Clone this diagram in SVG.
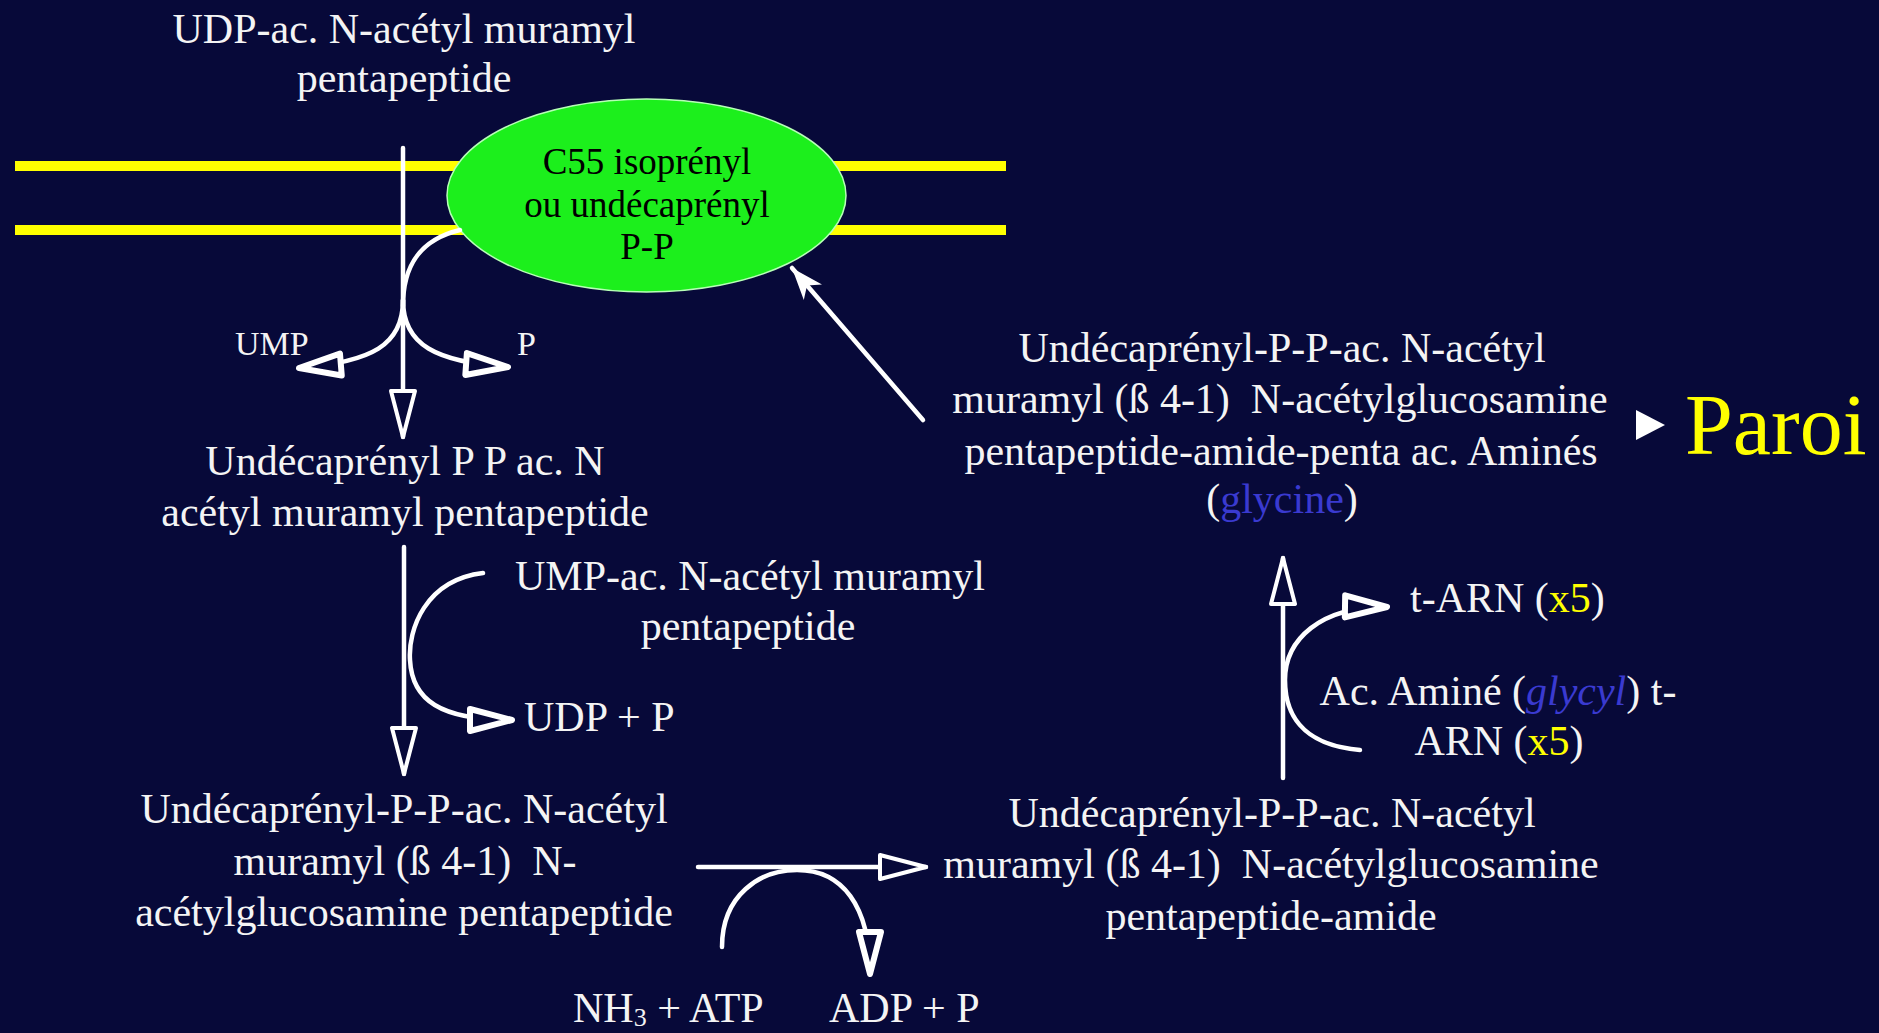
<svg xmlns="http://www.w3.org/2000/svg" width="1879" height="1033" viewBox="0 0 1879 1033">
<style>
.t{font-family:"Liberation Serif","Times New Roman",serif;font-size:42px;fill:#f4f4f4;text-anchor:middle;white-space:pre}
.s{text-anchor:start}
.e{font-family:"Liberation Serif","Times New Roman",serif;font-size:37px;fill:#000;text-anchor:middle}
.y{fill:#ffff00}
.b{fill:#3a3ad0}
.ln{fill:none;stroke:#fff;stroke-width:4.5;stroke-linecap:round}
.mem{stroke:#ffff00;stroke-width:10}
</style>
<defs>
<marker id="hollow" markerUnits="userSpaceOnUse" markerWidth="56" markerHeight="32" viewBox="-4 -16 56 32" refX="46" refY="0" orient="auto">
<path d="M0,-12 L46,0 L0,12 Z" fill="#070939" stroke="#fff" stroke-width="4" stroke-linejoin="round"/>
</marker>
<marker id="small" markerUnits="userSpaceOnUse" markerWidth="52" markerHeight="32" viewBox="-4 -16 52 32" refX="42" refY="0" orient="auto">
<path d="M0,-11 L42,0 L0,11 Z" fill="#070939" stroke="#fff" stroke-width="6" stroke-linejoin="round"/>
</marker>
<marker id="solid" markerUnits="userSpaceOnUse" markerWidth="40" markerHeight="32" viewBox="-4 -16 40 32" refX="32" refY="0" orient="auto">
<path d="M0,-12 L32,0 L0,12 L9,0 Z" fill="#fff"/>
</marker>
</defs>
<rect width="1879" height="1033" fill="#070939"/>

<g id="membrane">
<line class="mem" x1="15" y1="166" x2="1006" y2="166"/>
<line class="mem" x1="15" y1="230" x2="1006" y2="230"/>
</g>

<g id="node-carrier">
<ellipse cx="646.5" cy="195.5" rx="199.5" ry="96.5" fill="#1cef1c" stroke="#b8ffb8" stroke-width="1.5"/>
<text class="e" x="647" y="174">C55 isoprényl</text>
<text class="e" x="647" y="217">ou undécaprényl</text>
<text class="e" x="647" y="259">P-P</text>
</g>

<g id="node-udp">
<text class="t" x="404" y="43">UDP-ac. N-acétyl muramyl</text>
<text class="t" x="404" y="92">pentapeptide</text>
</g>

<g id="node-ump-p">
<text class="t s" x="235" y="355" style="font-size:34px">UMP</text>
<text class="t s" x="517" y="355" style="font-size:34px">P</text>
</g>

<g id="node-lipid1">
<text class="t" x="405" y="475">Undécaprényl P P ac. N</text>
<text class="t" x="405" y="526">acétyl muramyl pentapeptide</text>
</g>

<g id="node-ump-ac">
<text class="t" x="750" y="590">UMP-ac. N-acétyl muramyl</text>
<text class="t" x="748" y="640">pentapeptide</text>
</g>

<g id="node-udp-p">
<text class="t s" x="524" y="731">UDP + P</text>
</g>

<g id="node-lipid2">
<text class="t" x="404" y="823">Undécaprényl-P-P-ac. N-acétyl</text>
<text class="t" x="405" y="875" xml:space="preserve">muramyl (ß 4-1)  N-</text>
<text class="t" x="404" y="926">acétylglucosamine pentapeptide</text>
</g>

<g id="node-nh3">
<text class="t s" x="573" y="1022">NH<tspan style="font-size:26px" dy="4">3</tspan><tspan dy="-4"> + ATP</tspan></text>
</g>

<g id="node-adp">
<text class="t s" x="829" y="1022">ADP + P</text>
</g>

<g id="node-lipid3">
<text class="t" x="1272" y="827">Undécaprényl-P-P-ac. N-acétyl</text>
<text class="t" x="1271" y="878" xml:space="preserve">muramyl (ß 4-1)  N-acétylglucosamine</text>
<text class="t" x="1271" y="930">pentapeptide-amide</text>
</g>

<g id="node-trna">
<text class="t s" x="1410" y="612">t-ARN (<tspan class="y">x5</tspan>)</text>
</g>

<g id="node-glycyl">
<text class="t" x="1498" y="705">Ac. Aminé (<tspan class="b" font-style="italic">glycyl</tspan>) t-</text>
<text class="t" x="1499" y="755">ARN (<tspan class="y">x5</tspan>)</text>
</g>

<g id="node-lipid4">
<text class="t" x="1282" y="362">Undécaprényl-P-P-ac. N-acétyl</text>
<text class="t" x="1280" y="413" xml:space="preserve">muramyl (ß 4-1)  N-acétylglucosamine</text>
<text class="t" x="1281" y="465">pentapeptide-amide-penta ac. Aminés</text>
<text class="t" x="1282" y="513">(<tspan class="b">glycine</tspan>)</text>
</g>

<g id="node-paroi">
<polygon points="1636,410 1665,425 1636,440" fill="#fff"/>
<text x="1685" y="454" style="font-family:'Liberation Serif','Times New Roman',serif;font-size:86px;fill:#ffff00">Paroi</text>
</g>

<g id="connectors">
<path class="ln" d="M403 148 L403 437" marker-end="url(#hollow)"/>
<path class="ln" d="M460 230 C418 240 403 268 403 306"/>
<path class="ln" d="M403 300 C403 345 372 362 299 368" marker-end="url(#small)"/>
<path class="ln" d="M403 300 C403 345 436 362 508 367" marker-end="url(#small)"/>

<path class="ln" d="M404 547 L404 774" marker-end="url(#hollow)"/>
<path class="ln" d="M483 573 C425 580 408 630 410 660 C412 700 440 720 512 720" marker-end="url(#small)"/>

<path class="ln" d="M698 867 L926 867" marker-end="url(#hollow)"/>
<path class="ln" d="M722 947 C722 895 760 870 797 870 C842 870 870 905 870 974" marker-end="url(#small)"/>

<path class="ln" d="M1283 778 L1283 558" marker-end="url(#hollow)"/>
<path class="ln" d="M1360 750 C1300 745 1285 712 1285 680 C1285 640 1320 606 1387 607" marker-end="url(#small)"/>

<path class="ln" d="M923 420 L792 268" marker-end="url(#solid)"/>
</g>
</svg>
